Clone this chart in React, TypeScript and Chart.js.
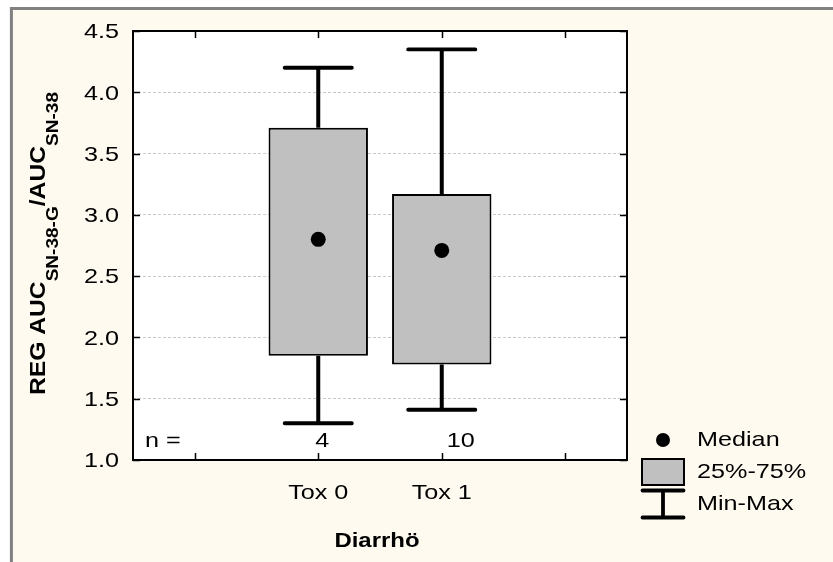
import React, { useEffect, useRef } from "react";
import { Chart, registerables } from "chart.js";

Chart.register(...registerables);

// ---- data ----
const categories = ["Tox 0", "Tox 1"];
const minValues = [1.3, 1.41];
const q1Values = [1.85, 1.78];
const medianValues = [2.8, 2.71];
const q3Values = [3.71, 3.17];
const maxValues = [4.2, 4.35];
const nValues = [4, 10];
const yTickValues = [1.0, 1.5, 2.0, 2.5, 3.0, 3.5, 4.0, 4.5];
const legendLabels = ["Median", "25%-75%", "Min-Max"];
const xTitle = "Diarrhö";
const yTitleParts: [string, boolean][] = [
  ["REG AUC", false],
  ["SN-38-G", true],
  ["/AUC", false],
  ["SN-38", true],
];
const nLabel = "n =";

// category slots: one empty slot on each side
const slotLabels = ["", ...categories, ""];

const FONT = "'Liberation Sans', Arial, Helvetica, sans-serif";
const BOX_FILL = "#C0C0C0";

function drawText(
  ctx: CanvasRenderingContext2D,
  s: string,
  x: number,
  y: number,
  size: number,
  bold: boolean,
  align: CanvasTextAlign,
  baseline: CanvasTextBaseline,
  sx: number
) {
  ctx.save();
  ctx.font = `${bold ? "bold " : ""}${size}px ${FONT}`;
  ctx.translate(x, y);
  ctx.scale(sx, 1);
  ctx.textAlign = align;
  ctx.textBaseline = baseline;
  ctx.fillStyle = "#000";
  ctx.fillText(s, 0, 0);
  ctx.restore();
}

export default function App() {
  const ref = useRef<HTMLCanvasElement | null>(null);

  useEffect(() => {
    const canvas = ref.current;
    if (!canvas) return;
    const FS = 21;
    const SX = 1.2;

    const plugin = {
      id: "statBoxDecor",
      beforeDraw(chart: any) {
        const { ctx, chartArea: a } = chart;
        const W = chart.width;
        const H = chart.height;
        ctx.save();
        ctx.fillStyle = "#ffffff";
        ctx.fillRect(0, 0, W, H);
        ctx.fillStyle = "#FFFAF0";
        ctx.fillRect(10, 7, W - 10, H - 7);
        ctx.strokeStyle = "#808080";
        ctx.lineWidth = 3;
        ctx.beginPath();
        ctx.moveTo(11.4, H);
        ctx.lineTo(11.4, 8.6);
        ctx.lineTo(W, 8.6);
        ctx.stroke();
        ctx.fillStyle = "#ffffff";
        ctx.fillRect(a.left, a.top, a.right - a.left, a.bottom - a.top);
        ctx.restore();
      },
      beforeDatasetsDraw(chart: any) {
        const { ctx } = chart;
        const xs = chart.scales.x;
        const ys = chart.scales.y;
        const slotW = (xs.right - xs.left) / slotLabels.length;
        const half = slotW * 0.272;
        ctx.save();
        ctx.strokeStyle = "#000";
        categories.forEach((_, i) => {
          const px = xs.getPixelForValue(i + 1);
          const yMin = ys.getPixelForValue(minValues[i]);
          const yQ1 = ys.getPixelForValue(q1Values[i]);
          const yQ3 = ys.getPixelForValue(q3Values[i]);
          const yMax = ys.getPixelForValue(maxValues[i]);
          ctx.lineWidth = 4;
          ctx.lineCap = "butt";
          ctx.beginPath();
          ctx.moveTo(px, yMin);
          ctx.lineTo(px, yQ1);
          ctx.moveTo(px, yQ3);
          ctx.lineTo(px, yMax);
          ctx.stroke();
          ctx.lineWidth = 3.8;
          ctx.lineCap = "round";
          ctx.beginPath();
          ctx.moveTo(px - half, yMin);
          ctx.lineTo(px + half, yMin);
          ctx.moveTo(px - half, yMax);
          ctx.lineTo(px + half, yMax);
          ctx.stroke();
        });
        ctx.restore();
      },
      afterDatasetsDraw(chart: any) {
        const { ctx, chartArea: a } = chart;
        const xs = chart.scales.x;
        const ys = chart.scales.y;
        ctx.save();
        // plot frame
        ctx.strokeStyle = "#000";
        ctx.lineWidth = 2;
        ctx.lineCap = "butt";
        ctx.strokeRect(a.left, a.top, a.right - a.left, a.bottom - a.top);
        // inward ticks
        ctx.lineWidth = 1.5;
        ctx.beginPath();
        ys.ticks.forEach((t: any) => {
          const py = Math.round(ys.getPixelForValue(t.value)) + 0.5;
          ctx.moveTo(a.left, py);
          ctx.lineTo(a.left + 7, py);
          ctx.moveTo(a.right, py);
          ctx.lineTo(a.right - 7, py);
        });
        slotLabels.forEach((_, i) => {
          const px = Math.round(xs.getPixelForValue(i)) + 0.5;
          ctx.moveTo(px, a.bottom);
          ctx.lineTo(px, a.bottom - 7);
          ctx.moveTo(px, a.top);
          ctx.lineTo(px, a.top + 7);
        });
        ctx.stroke();
        ctx.restore();

        // y tick labels
        ys.ticks.forEach((t: any) => {
          drawText(ctx, Number(t.value).toFixed(1), a.left - 14, ys.getPixelForValue(t.value) + 1.5, FS, false, "right", "middle", SX);
        });
        // x category labels
        slotLabels.forEach((lab, i) => {
          if (!lab) return;
          drawText(ctx, lab, xs.getPixelForValue(i), a.bottom + 33, FS, false, "center", "middle", SX);
        });
        // n labels
        drawText(ctx, nLabel, a.left + 12, a.bottom - 13, FS, false, "left", "alphabetic", SX);
        const nOffsets = [4, 19];
        nValues.forEach((n, i) => {
          drawText(ctx, String(n), xs.getPixelForValue(i + 1) + nOffsets[i], a.bottom - 13, FS, false, "center", "alphabetic", SX);
        });
        // x title
        drawText(ctx, xTitle, (a.left + a.right) / 2 - 3, a.bottom + 87, 21, true, "center", "alphabetic", 1.14);

        // y title (rotated with subscripts)
        ctx.save();
        ctx.translate(45, (a.top + a.bottom) / 2 - 2);
        ctx.rotate(-Math.PI / 2);
        ctx.scale(1.12, 1);
        ctx.fillStyle = "#000";
        ctx.textAlign = "left";
        ctx.textBaseline = "alphabetic";
        const fontFor = (sub: boolean) => `bold ${sub ? 17 : 22}px ${FONT}`;
        let total = 0;
        yTitleParts.forEach(([s, sub]) => {
          ctx.font = fontFor(sub);
          total += ctx.measureText(s).width;
        });
        let cx = -total / 2;
        yTitleParts.forEach(([s, sub]) => {
          ctx.font = fontFor(sub);
          ctx.fillText(s, cx, sub ? 13 : 0);
          cx += ctx.measureText(s).width;
        });
        ctx.restore();

        // legend
        const lx = a.right + 36; // symbol center x
        const tx = a.right + 70; // text left
        const rows = [a.bottom - 20, a.bottom + 12, a.bottom + 44];
        ctx.save();
        ctx.fillStyle = "#000";
        ctx.beginPath();
        ctx.arc(lx, rows[0], 7, 0, Math.PI * 2);
        ctx.fill();
        ctx.fillStyle = BOX_FILL;
        ctx.fillRect(lx - 21, rows[1] - 13, 42, 26);
        ctx.strokeStyle = "#000";
        ctx.lineWidth = 2;
        ctx.strokeRect(lx - 21, rows[1] - 13, 42, 26);
        ctx.lineWidth = 3.8;
        ctx.lineCap = "round";
        ctx.beginPath();
        ctx.moveTo(lx - 20.5, rows[2] - 13.5);
        ctx.lineTo(lx + 20.5, rows[2] - 13.5);
        ctx.moveTo(lx - 20.5, rows[2] + 13.5);
        ctx.lineTo(lx + 20.5, rows[2] + 13.5);
        ctx.moveTo(lx, rows[2] - 13.5);
        ctx.lineTo(lx, rows[2] + 13.5);
        ctx.stroke();
        ctx.restore();
        legendLabels.forEach((l, i) => {
          drawText(ctx, l, tx, rows[i] + 0.5, FS, false, "left", "middle", SX);
        });
      },
    };

    const chart = new Chart(canvas, {
      type: "bar",
      data: {
        labels: slotLabels,
        datasets: [
          {
            type: "line",
            label: "Median",
            data: [null, ...medianValues, null],
            showLine: false,
            pointRadius: 7.5,
            pointHoverRadius: 7.5,
            pointBackgroundColor: "#000",
            pointBorderColor: "#000",
            pointBorderWidth: 0,
            order: 0,
          } as any,
          {
            type: "bar",
            label: "25%-75%",
            data: [null, ...categories.map((_, i) => [q1Values[i], q3Values[i]]), null],
            backgroundColor: BOX_FILL,
            borderColor: "#000",
            borderWidth: 2,
            borderSkipped: false,
            barPercentage: 0.805,
            categoryPercentage: 1,
            grouped: false,
            order: 1,
          } as any,
        ],
      },
      options: {
        responsive: false,
        animation: false,
        devicePixelRatio: 1,
        layout: { padding: { left: 133, top: 31, right: 206, bottom: 102 } },
        plugins: { legend: { display: false }, tooltip: { enabled: false } },
        events: [],
        scales: {
          x: {
            type: "category",
            offset: true,
            ticks: { display: false },
            grid: { display: false, drawTicks: false },
            border: { display: false },
            afterFit: (s: any) => {
              s.height = 0;
            },
          },
          y: {
            type: "linear",
            min: 1,
            max: 4.5,
            afterBuildTicks: (s: any) => {
              s.ticks = yTickValues.map((v) => ({ value: v }));
            },
            ticks: { display: false },
            grid: { display: true, color: "#C8C8C8", lineWidth: 1, drawTicks: false },
            border: { display: false, dash: [3, 2] },
            afterFit: (s: any) => {
              s.width = 0;
            },
          },
        },
      } as any,
      plugins: [plugin],
    });
    return () => chart.destroy();
  }, []);

  return (
    <div style={{ position: "absolute", left: 0, top: 0, width: 833, height: 562 }}>
      <canvas ref={ref} width={833} height={562} style={{ display: "block", width: 833, height: 562 }} />
    </div>
  );
}
